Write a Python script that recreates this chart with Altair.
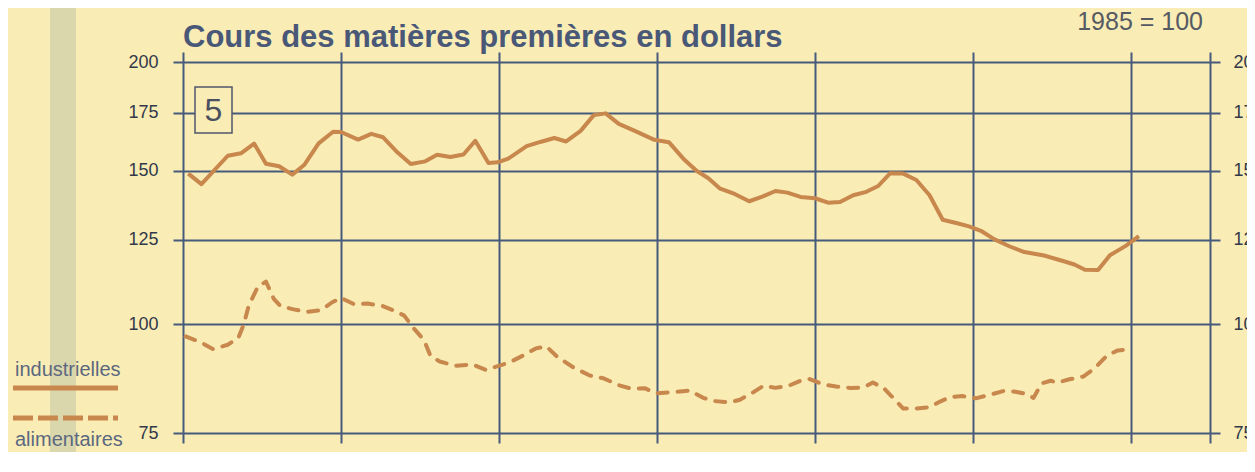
import altair as alt
import pandas as pd

# ---- data (index, 1985 = 100; x = months from the first grid line) ----
ind_month = [0.4, 1.4, 3.4, 4.4, 5.4, 6.3, 7.3, 8.3, 9.2, 10.3, 11.4, 12.0, 13.3, 14.3, 15.2,
             16.3, 17.3, 18.4, 19.3, 20.3, 21.3, 22.2, 23.2, 23.9, 24.7, 26.1, 27.2, 28.2, 29.1,
             30.2, 31.2, 32.1, 33.1, 34.4, 35.8, 36.9, 38.0, 39.0, 39.9, 40.8, 41.9, 43.0, 44.0,
             45.0, 45.9, 46.9, 48.0, 49.0, 49.9, 50.9, 51.9, 52.8, 53.7, 54.7, 55.7, 56.7, 57.7,
             58.8, 59.7, 60.6, 61.6, 62.8, 63.9, 65.4, 66.9, 67.7, 68.5, 69.5, 70.4, 71.6, 72.6]
ind_value = [148.9, 144.8, 156.1, 157.1, 161.2, 152.8, 151.8, 148.5, 152.3, 161.3, 166.3, 166.2,
             162.9, 165.4, 163.9, 157.4, 152.7, 153.8, 156.5, 155.6, 156.6, 162.4, 153.1, 153.4,
             154.9, 160.1, 162.0, 163.6, 162.1, 166.7, 173.8, 174.6, 169.8, 166.5, 162.8, 161.8,
             154.9, 150.0, 147.1, 143.1, 141.1, 138.4, 140.1, 142.2, 141.6, 140.0, 139.5, 137.9,
             138.1, 140.6, 141.9, 144.1, 149.0, 148.9, 146.4, 140.6, 131.8, 130.6, 129.5, 128.0,
             125.2, 122.8, 121.0, 119.9, 118.1, 117.1, 115.5, 115.4, 120.0, 123.0, 126.2]

ali_month = [0.2, 1.3, 2.3, 3.4, 4.2, 4.6, 5.0, 5.7, 6.3, 6.9, 7.4, 8.4, 9.4, 10.5, 11.3, 12.0,
             13.0, 14.0, 15.1, 16.0, 16.8, 17.5, 18.3, 18.8, 19.5, 20.7, 22.0, 23.0, 23.9, 24.8,
             25.8, 26.8, 27.6, 28.4, 29.6, 30.9, 31.9, 33.2, 34.1, 35.1, 35.9, 37.4, 38.5, 39.5,
             40.4, 41.5, 42.3, 43.3, 44.1, 45.0, 46.1, 46.9, 47.6, 48.6, 49.6, 50.7, 51.7, 52.4,
             53.2, 53.8, 54.7, 55.6, 56.7, 57.5, 58.3, 59.2, 60.2, 61.3, 62.3, 63.1, 64.0, 64.6,
             65.2, 65.9, 66.4, 67.4, 68.4, 69.2, 70.2, 71.0, 71.7]
ali_value = [96.8, 95.4, 93.6, 94.7, 96.4, 99.8, 105.1, 110.5, 111.9, 106.9, 104.9, 104.0, 103.3,
             103.8, 105.9, 107.2, 105.4, 105.6, 105.0, 103.7, 102.3, 99.0, 95.9, 91.9, 90.6, 89.6,
             89.9, 88.6, 89.5, 90.4, 92.0, 93.8, 94.3, 91.8, 89.3, 87.3, 86.7, 85.0, 84.3, 84.4,
             83.3, 83.6, 83.9, 82.3, 81.6, 81.3, 81.9, 83.5, 85.0, 84.5, 85.1, 86.1, 86.5, 85.3,
             84.8, 84.5, 84.6, 85.7, 84.5, 82.7, 80.0, 80.0, 80.3, 81.5, 82.5, 82.7, 82.2, 83.0,
             83.8, 83.7, 83.2, 82.3, 85.5, 86.1, 85.7, 86.5, 87.1, 88.9, 92.1, 93.3, 93.5]

y_ticks = [75, 100, 125, 150, 175, 200]
x_ticks = [0, 12, 24, 36, 48, 60, 72, 78]
series_names = ["industrielles", "alimentaires"]
title_text = "Cours des matières premières en dollars"
base_text = "1985 = 100"
box_text = "5"

BG = "#f9ecb5"
GRID = "#465a7c"
LINE = "#c8874c"
FONT = "Liberation Sans"
LABEL = "#33394a"

df_ind = pd.DataFrame({"mois": ind_month, "indice": ind_value})
df_ali = pd.DataFrame({"mois": ali_month, "indice": ali_value})

xscale = alt.Scale(domain=[0, 78], nice=False, zero=False)
yscale = alt.Scale(type="log", domain=[75, 200], nice=False, zero=False)

ind_line = alt.Chart(df_ind).mark_line(color=LINE, strokeWidth=4, strokeJoin="round").encode(
    x=alt.X("mois:Q", scale=xscale,
            axis=alt.Axis(orient="bottom", values=x_ticks, grid=True, gridColor=GRID, gridWidth=2,
                          gridOpacity=1, ticks=True, tickSize=10, tickColor=GRID, tickWidth=2,
                          labels=False, domain=False, title=None)),
    y=alt.Y("indice:Q", scale=yscale,
            axis=alt.Axis(orient="left", values=y_ticks, format="d", grid=True, gridColor=GRID,
                          gridWidth=2, gridOpacity=1, ticks=True, tickSize=10, tickColor=GRID,
                          tickWidth=2, domain=False, title=None, labelFont=FONT, labelFontSize=18,
                          labelColor=LABEL, labelPadding=15)),
)

ali_line = alt.Chart(df_ali).mark_line(color=LINE, strokeWidth=4, strokeDash=[10, 10],
                                       strokeCap="round", strokeJoin="round").encode(
    x=alt.X("mois:Q", scale=xscale,
            axis=alt.Axis(orient="top", values=x_ticks, grid=False, ticks=True, tickSize=10,
                          tickColor=GRID, tickWidth=2, labels=False, domain=False, title=None)),
    y=alt.Y("indice:Q", scale=yscale,
            axis=alt.Axis(orient="right", values=y_ticks, format="d", grid=False, ticks=True,
                          tickSize=10, tickColor=GRID, tickWidth=2, domain=False, title=None,
                          labelFont=FONT, labelFontSize=18, labelColor=LABEL,
                          labelPadding=13, labelAlign="left")),
)

one = pd.DataFrame({"k": [0]})

band = alt.Chart(one).mark_rect(fill="#d6d3ab", opacity=0.85).encode(
    x=alt.value(-133), x2=alt.value(-107), y=alt.value(-54), y2=alt.value(390))

box = alt.Chart(one).mark_rect(fill=BG, stroke="#50566a", strokeWidth=1.5).encode(
    x=alt.value(12), x2=alt.value(49), y=alt.value(25), y2=alt.value(71))
box_label = alt.Chart(pd.DataFrame({"t": [box_text]})).mark_text(
    font=FONT, fontSize=32, color="#4a5060", align="center", baseline="middle").encode(
    x=alt.value(30.5), y=alt.value(49), text="t:N")

title = alt.Chart(pd.DataFrame({"t": [title_text]})).mark_text(
    font=FONT, fontSize=31, fontWeight="bold", color="#4a5878", align="left",
    baseline="alphabetic").encode(x=alt.value(0), y=alt.value(-15), text="t:N")
base = alt.Chart(pd.DataFrame({"t": [base_text]})).mark_text(
    font=FONT, fontSize=25, color="#555a63", align="right", baseline="alphabetic").encode(
    x=alt.value(1020), y=alt.value(-32), text="t:N")

leg_ind_text = alt.Chart(pd.DataFrame({"t": [series_names[0]]})).mark_text(
    font=FONT, fontSize=20, color="#5b6880", align="left", baseline="alphabetic").encode(
    x=alt.value(-168), y=alt.value(314), text="t:N")
leg_ind_line = alt.Chart(one).mark_rule(color=LINE, strokeWidth=5).encode(
    x=alt.value(-170), x2=alt.value(-65), y=alt.value(326))
leg_ali_line = alt.Chart(one).mark_rule(color=LINE, strokeWidth=5, strokeDash=[20, 5]).encode(
    x=alt.value(-170), x2=alt.value(-65), y=alt.value(356))
leg_ali_text = alt.Chart(pd.DataFrame({"t": [series_names[1]]})).mark_text(
    font=FONT, fontSize=20, color="#5b6880", align="left", baseline="alphabetic").encode(
    x=alt.value(-168), y=alt.value(384), text="t:N")

chart = alt.layer(
    band, ind_line, ali_line, box, box_label, title, base,
    leg_ind_text, leg_ind_line, leg_ali_line, leg_ali_text,
).properties(
    width=1027, height=371,
    padding={"left": 175, "top": 54, "right": 37, "bottom": 19},
    autosize=alt.AutoSizeParams(type="none"),
    background=BG,
).configure_view(stroke="transparent")

chart.save("out.html", embed_options={"renderer": "svg", "actions": False})
